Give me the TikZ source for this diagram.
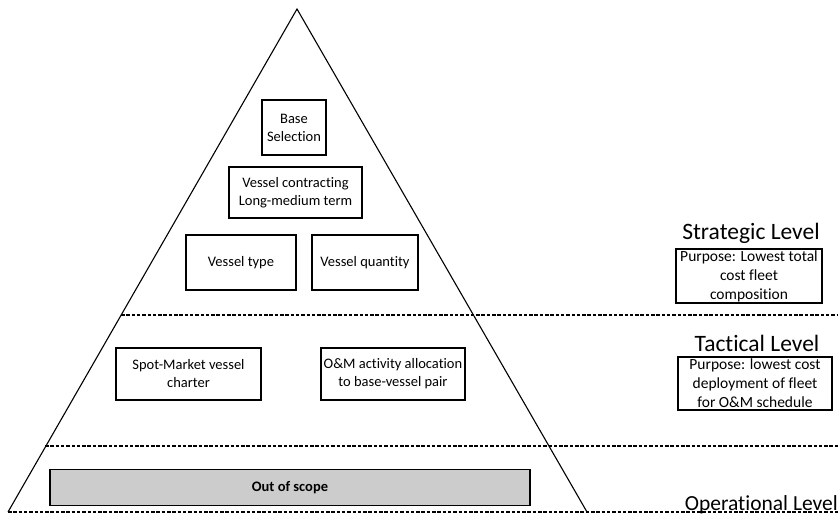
\documentclass[tikz,border=0pt]{standalone}
\usepackage{fontspec}
\setmainfont[Ligatures={NoCommon}]{Carlito}
\begin{document}
\begin{tikzpicture}[x=1pt,y=-1pt,
  box/.style={draw, line width=1.1pt, align=center, inner sep=0pt, font=\fontsize{14.5}{18}\selectfont},
  purpose/.style={draw, line width=1.1pt, align=center, inner sep=0pt, font=\fontsize{15.5}{19}\selectfont},
  level/.style={font=\fontsize{23.5}{26}\selectfont, inner sep=0pt},
  sep/.style={line width=1.4pt, dash pattern=on 3.5pt off 1.8pt}]
\useasboundingbox (0,0) rectangle (838,517);

% pyramid outline
\coordinate (apex) at (297,9);
\coordinate (bl) at (8,512);
\coordinate (br) at (587,512);
\draw[line width=1.1pt] (bl) -- (apex) -- (br);

% level separators
\coordinate (s1) at (121,315);
\coordinate (s1e) at (838,315);
\coordinate (s2) at (45,446);
\coordinate (s2e) at (838,446);
\coordinate (s3e) at (838,512);
\draw[sep] (s1) -- (s1e);
\draw[sep] (s2) -- (s2e);
\draw[sep] (bl) -- (s3e);

% strategic decisions
\node[box, minimum width=64pt, minimum height=55pt] (base) at (294,127.5) {Base\\Selection};
\node[box, minimum width=133pt, minimum height=51pt] (contract) at (295.5,192.5) {Vessel contracting\\Long-medium term};
\node[box, minimum width=110pt, minimum height=55pt] (vtype) at (241,262.5) {Vessel type};
\node[box, minimum width=106pt, minimum height=55pt] (vqty) at (365,262.5) {Vessel quantity};

% tactical decisions
\node[box, minimum width=145pt, minimum height=52pt] (spot) at (188.5,374) {Spot-Market vessel\\charter};
\node[box, minimum width=144pt, minimum height=52pt] (alloc) at (393,374) {O\&M activity allocation\\to base-vessel pair};

% operational level
\node[box, fill=gray!40, minimum width=480pt, minimum height=36pt, font=\fontsize{14.5}{17}\selectfont\bfseries] (oos) at (290,487.5) {Out of scope};

% level labels
\node[level] (strat) at (751,233) {Strategic Level};
\node[purpose, minimum width=146pt, minimum height=54pt] (spurp) at (749,276) {Purpose: Lowest total\\cost fleet\\composition};
\node[level] (tact) at (757,343) {Tactical Level};
\node[purpose, minimum width=154pt, minimum height=53pt] (tpurp) at (755,383.5) {Purpose: lowest cost\\deployment of fleet\\for O\&M schedule};
\node[level, font=\fontsize{21.5}{24}\selectfont, anchor=base east] (oper) at (838,510) {Operational Level};
\end{tikzpicture}
\end{document}
